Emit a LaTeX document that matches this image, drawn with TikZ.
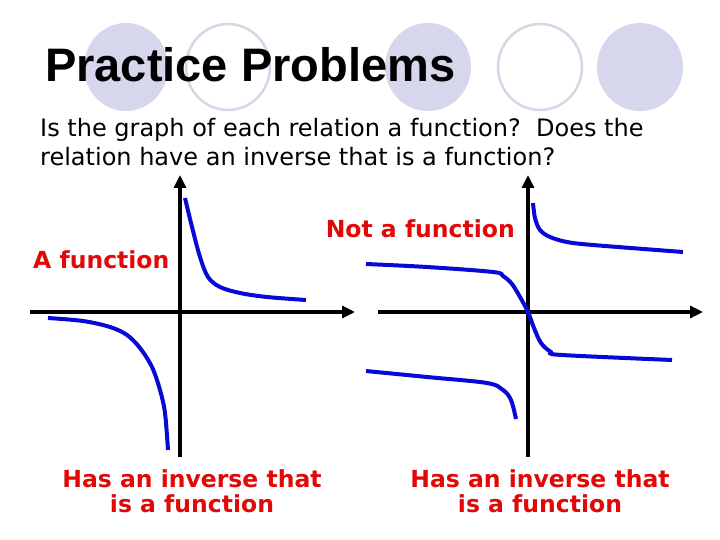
\documentclass[tikz,border=0pt]{standalone}
\usepackage{fontspec}
\setmainfont{DejaVu Sans}
\newfontfamily\titlefont{Liberation Sans}
\usetikzlibrary{arrows.meta}
\definecolor{lav}{RGB}{214,214,236}
\definecolor{lavline}{RGB}{214,214,230}
\definecolor{redlbl}{RGB}{226,8,8}
\definecolor{curveblue}{RGB}{8,8,215}
\tikzset{
  dotfill/.style={fill=lav, draw=none},
  dotring/.style={draw=lavline, line width=2.5pt, fill=white},
  axis/.style={line width=4pt, -{Triangle[length=13pt,width=12pt]}},
  curve/.style={draw=curveblue, line width=4pt, smooth, tension=0.55},
  lbl/.style={text=redlbl, font=\fontsize{23.5}{25}\selectfont\bfseries, inner sep=0pt, align=center},
}
\begin{document}
\begin{tikzpicture}[x=1pt,y=-1pt]
\useasboundingbox[fill=white] (0,0) rectangle (720,540);
% decorative circles
\fill[dotfill] (126,67) ellipse [x radius=42, y radius=44];
\draw[dotring] (228,67) ellipse [x radius=42, y radius=43];
\fill[dotfill] (428,67) ellipse [x radius=43, y radius=44];
\draw[dotring] (540,67) ellipse [x radius=42, y radius=43];
\fill[dotfill] (640,67) ellipse [x radius=43, y radius=44];
% title
\node[anchor=base west, inner sep=0pt, font=\titlefont\fontsize{47}{50}\selectfont\bfseries] (title) at (45,82) {Practice Problems};
% question
\node[anchor=base west, inner sep=0pt, font=\fontsize{24}{29}\selectfont] (q1) at (40,137) {Is the graph of each relation a function?\ \ Does the};
\node[anchor=base west, inner sep=0pt, font=\fontsize{24}{29}\selectfont] (q2) at (40,166) {relation have an inverse that is a function?};
% left graph axes
\coordinate (lxa) at (30,312);
\coordinate (lxb) at (355,312);
\coordinate (lya) at (180,457);
\coordinate (lyb) at (180,175);
\draw[axis] (lxa) -- (lxb);
\draw[axis] (lya) -- (lyb);
% left curves
\draw[curve] plot coordinates {(185,198) (192,227) (200,257) (208,277) (220,287) (240,293) (267,297) (306,300)};
\draw[curve] plot coordinates {(48,318) (83,321) (110,327) (127,335) (140,348) (152,367) (160,390) (165,413) (168,450)};
% right graph axes
\coordinate (rxa) at (378,312);
\coordinate (rxb) at (703,312);
\coordinate (rya) at (528,457);
\coordinate (ryb) at (528,175);
\draw[axis] (rxa) -- (rxb);
\draw[axis] (rya) -- (ryb);
% right curves
\draw[curve] plot coordinates {(533,203) (535,218) (540,230) (550,237) (567,242) (593,245) (683,252)};
\draw[curve] plot coordinates {(366,264) (427,267) (493,272) (503,276) (512,284) (520,297) (528,312) (534,328) (541,343) (551,352) (562,355) (672,360)};
\draw[curve] plot coordinates {(366,371) (427,377) (487,383) (503,390) (511,400) (516,419)};
% labels
\node[lbl, anchor=base west] (fn) at (33,268) {A function};
\node[lbl, anchor=base east] (notfn) at (515,237) {Not a function};
\node[lbl, anchor=base] (inv1a) at (192,487) {Has an inverse that};
\node[lbl, anchor=base] (inv1b) at (192,512) {is a function};
\node[lbl, anchor=base] (inv2a) at (540,487) {Has an inverse that};
\node[lbl, anchor=base] (inv2b) at (540,512) {is a function};
\end{tikzpicture}
\end{document}
